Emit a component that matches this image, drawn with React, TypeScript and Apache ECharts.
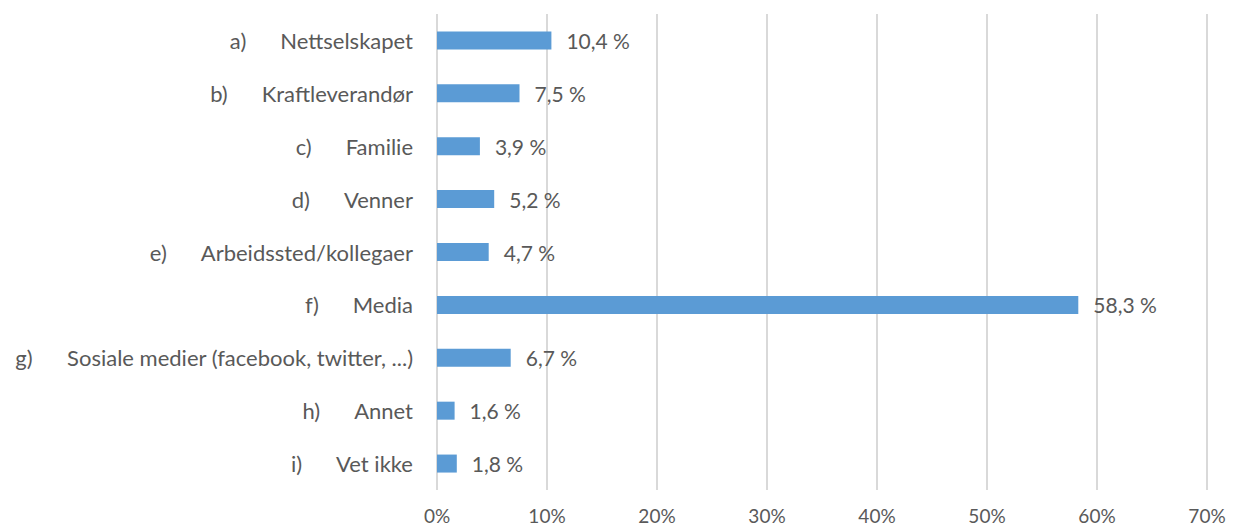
import React, { useEffect, useRef } from "react";
import * as echarts from "echarts";

const letters = ["a)", "b)", "c)", "d)", "e)", "f)", "g)", "h)", "i)"];
const categories = [
  "Nettselskapet",
  "Kraftleverandør",
  "Familie",
  "Venner",
  "Arbeidssted/kollegaer",
  "Media",
  "Sosiale medier (facebook, twitter, ...)",
  "Annet",
  "Vet ikke",
];
const values = [10.4, 7.5, 3.9, 5.2, 4.7, 58.3, 6.7, 1.6, 1.8];
const xTicks = [0, 10, 20, 30, 40, 50, 60, 70];

export default function App() {
  const ref = useRef<HTMLDivElement>(null);
  useEffect(() => {
    document.body.style.margin = "0";
    const chart = echarts.init(ref.current!, null, { renderer: "svg" });
    const font = "Lato, 'Open Sans', sans-serif";
    chart.setOption({
      animation: false,
      textStyle: { fontFamily: font },
      grid: { left: 437, right: 26, top: 14, bottom: 40, containLabel: false },
      xAxis: {
        type: "value",
        min: xTicks[0],
        max: xTicks[xTicks.length - 1],
        interval: 10,
        axisLine: { show: false },
        axisTick: { show: false },
        splitLine: { show: true, lineStyle: { color: "#d9d9d9", width: 2 } },
        axisLabel: {
          formatter: (v: number) => `${v}%`,
          color: "#595959",
          fontSize: 19,
          fontFamily: font,
          margin: 16,
        },
      },
      yAxis: {
        type: "category",
        inverse: true,
        data: categories.map((c, i) => `${letters[i]}|${c}`),
        axisLine: { show: false },
        axisTick: { show: false },
        axisLabel: {
          margin: 24,
          formatter: (v: string) => {
            const [l, n] = v.split("|");
            return `{l|${l}}{n|${n}}`;
          },
          rich: {
            l: { color: "#595959", fontSize: 22, fontFamily: font },
            n: { color: "#595959", fontSize: 22, fontFamily: font, padding: [0, 0, 0, 34] },
          },
        },
      },
      series: [
        {
          type: "bar",
          data: values,
          barWidth: 18,
          itemStyle: { color: "#5b9bd5" },
          label: {
            show: true,
            position: "right",
            distance: 15,
            color: "#595959",
            fontSize: 21,
            fontFamily: font,
            formatter: (p: any) => `${p.value.toFixed(1).replace(".", ",")} %`,
          },
        },
      ],
    });
    return () => chart.dispose();
  }, []);
  return <div ref={ref} style={{ width: 1233, height: 530 }} />;
}
